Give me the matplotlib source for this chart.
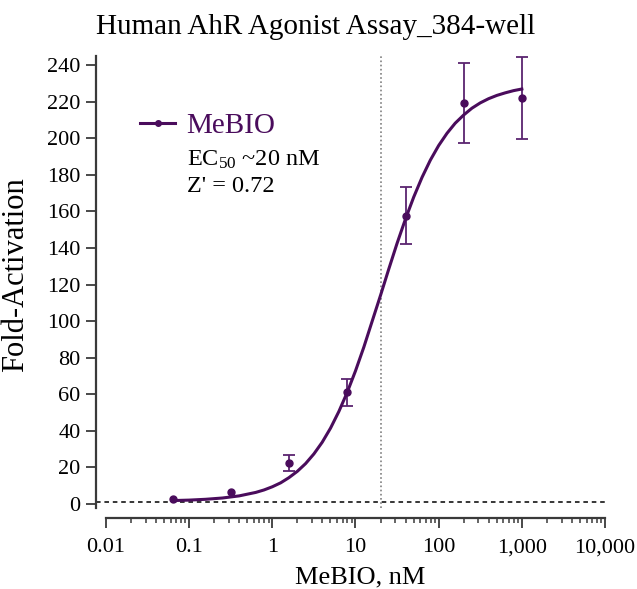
import matplotlib
matplotlib.use("Agg")
import matplotlib.pyplot as plt
import numpy as np
from matplotlib.ticker import FixedLocator, FuncFormatter, MultipleLocator, NullFormatter
from matplotlib.lines import Line2D

plt.rcParams.update({
    "font.family": "serif",
    "font.serif": ["Liberation Serif", "DejaVu Serif"],
    "mathtext.fontset": "custom",
    "mathtext.rm": "Liberation Serif",
    "mathtext.it": "Liberation Serif:italic",
})

# measured points (5-fold dilution series)
conc = [0.064, 0.32, 1.6, 8, 40, 200, 1000]
fold = [2.9, 6.6, 22.6, 61.1, 157.6, 219.3, 222.1]
err = [0.0, 0.0, 4.3, 7.5, 15.6, 21.9, 22.3]

# fitted curve
fit_x = [0.064, 0.1, 0.158, 0.251, 0.398, 0.631, 0.794, 1, 1.26, 1.58, 2.0, 2.51,
         3.16, 3.98, 5.01, 6.31, 7.94, 10, 12.6, 15.8, 20.0, 25.1, 31.6, 39.8,
         50.1, 63.1, 79.4, 100, 126, 158, 200, 251, 316, 398, 501, 631, 794, 1000]
fit_y = [1.9, 2.15, 2.6, 3.3, 4.45, 6.35, 7.7, 9.45, 11.6, 14.4, 17.9, 22.1,
         27.4, 33.8, 41.5, 50.6, 61.0, 72.8, 85.8, 99.7, 114.1, 128.4, 142.5, 155.7,
         167.8, 178.6, 188.0, 196.0, 202.7, 208.2, 212.7, 216.4, 219.3, 221.6, 223.4,
         224.8, 226.0, 226.9]

ec50 = 20
baseline = 1
purple = '#4a0c5c'

fig = plt.figure(figsize=(6.37, 5.89), dpi=100)
ax = fig.add_axes([96/637, 1-507.7/589, 509/637, 451.8/589])

ax.axhline(baseline, color='k', linestyle=(0, (3, 2.5)), linewidth=1.1, zorder=1)
ax.axvline(ec50, color='#808080', linestyle=(0, (1, 1.5)), linewidth=1.2, zorder=1)

ax.plot(fit_x, fit_y, color=purple, linewidth=2.2, zorder=3)
ex = [c for c, e in zip(conc, err) if e > 0]
ey = [f for f, e in zip(fold, err) if e > 0]
ee = [e for e in err if e > 0]
ax.errorbar(ex, ey, yerr=ee, fmt='none', ecolor='#5a2470', elinewidth=1.3,
            capsize=4, capthick=1.3, zorder=2)
ax.plot(conc, fold, 'o', color=purple, markersize=5, zorder=4)

ax.set_xscale('log')
ax.set_xlim(10**(-2 - 10/83.2), 10000)
ax.set_ylim(-2, 245)

for s in ['top', 'right']:
    ax.spines[s].set_visible(False)
for s in ['left', 'bottom']:
    ax.spines[s].set_linewidth(1.6)
    ax.spines[s].set_color('#3a3a3a')
ax.spines['bottom'].set_position(('outward', 7.5))
ax.spines['bottom'].set_bounds(0.01, 10000)
ax.spines['left'].set_bounds(-2, 245)

decades = [0.01, 0.1, 1, 10, 100, 1000, 10000]
minors = [d * k for d in decades[:-1] for k in range(2, 10)]
ax.yaxis.set_major_locator(MultipleLocator(20))
ax.xaxis.set_major_locator(FixedLocator(decades))
ax.xaxis.set_minor_locator(FixedLocator(minors))
ax.xaxis.set_major_formatter(FuncFormatter(lambda v, p: '{:,g}'.format(v)))
ax.xaxis.set_minor_formatter(NullFormatter())
ax.tick_params(axis='both', which='major', labelsize=16, width=1.3, length=7.5,
               color='#3a3a3a')
ax.tick_params(axis='x', which='minor', width=1.1, length=3.5, color='#3a3a3a')
ax.tick_params(axis='x', pad=7)

ax.set_xlabel('MeBIO, nM', fontsize=19, va='center')
ax.xaxis.set_label_coords((360-96)/509, -(577-507.7)/451.8)
ax.set_ylabel('Fold-Activation', fontsize=22)
ax.yaxis.set_label_coords(-(96-30)/509, (507.7-275)/451.8)
fig.suptitle('Human AhR Agonist Assay_384-well', fontsize=21, x=316/637, y=1-27/589,
             va='center')

h = Line2D([], [], color=purple, linewidth=2.2, marker='o', markersize=4)
leg = ax.legend([h], ['MeBIO'], loc='center left',
                bbox_to_anchor=((140-96)/509, (507.7-126)/451.8),
                frameon=False, fontsize=21, handlelength=1.2, handletextpad=0.4,
                borderpad=0, borderaxespad=0)
for t in leg.get_texts():
    t.set_color(purple)
ax.text((187-96)/509, (507.7-160)/451.8, r'EC$_{50}$ ~20 nM', transform=ax.transAxes,
        fontsize=17.5, va='center', ha='left')
ax.text((187-96)/509, (507.7-187)/451.8, "Z' = 0.72", transform=ax.transAxes,
        fontsize=17.5, va='center', ha='left')

fig.savefig('out.png', dpi=100)
